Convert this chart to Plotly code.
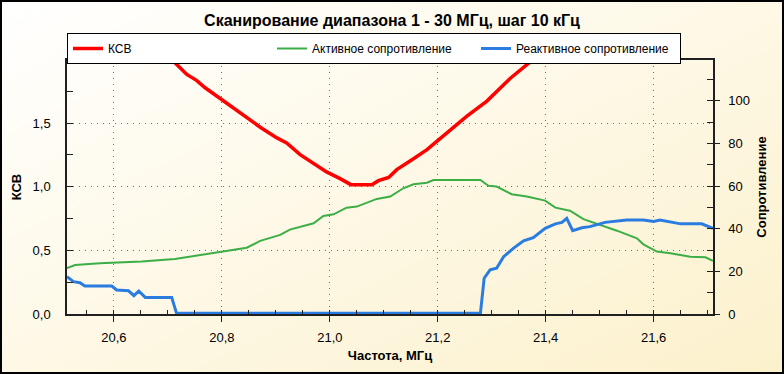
import base64
import plotly.graph_objects as go

# ---------------- data ----------------
ksv_freq = [20.701, 20.713, 20.735, 20.753, 20.769, 20.784, 20.803, 20.821, 20.846,
            20.871, 20.902, 20.920, 20.945, 20.970, 20.994, 21.019, 21.039, 21.078,
            21.090, 21.109, 21.124, 21.155, 21.180, 21.217, 21.254, 21.291, 21.334,
            21.377]
ksv_vals = [2.00, 1.974, 1.882, 1.835, 1.777, 1.732, 1.672, 1.620, 1.541,
            1.467, 1.383, 1.344, 1.252, 1.186, 1.116, 1.063, 1.016, 1.016,
            1.047, 1.073, 1.134, 1.220, 1.291, 1.423, 1.554, 1.672, 1.850,
            2.00]

act_freq = [20.513, 20.528, 20.574, 20.651, 20.713, 20.747, 20.797, 20.846, 20.871,
            20.908, 20.926, 20.945, 20.970, 20.988, 21.007, 21.031, 21.050, 21.087,
            21.112, 21.136, 21.155, 21.180, 21.192, 21.279, 21.294, 21.309, 21.337,
            21.365, 21.399, 21.418, 21.445, 21.470, 21.501, 21.532, 21.569, 21.581,
            21.606, 21.631, 21.668, 21.696, 21.710]
act_vals = [21.5, 23.0, 23.8, 24.6, 25.8, 27.2, 29.0, 31.1, 34.3,
            37.1, 39.6, 41.0, 42.6, 46.0, 46.8, 49.9, 50.4, 54.0,
            55.1, 59.0, 60.9, 61.6, 62.9, 62.9, 60.2, 59.8, 56.2,
            55.1, 53.2, 49.9, 48.5, 44.5, 41.8, 39.1, 35.5, 32.7,
            29.3, 28.5, 26.9, 26.6, 24.9]

react_freq = [20.513, 20.525, 20.537, 20.546, 20.596, 20.605, 20.627, 20.637, 20.646,
              20.658, 20.707, 20.716, 21.279, 21.286, 21.297, 21.309, 21.322, 21.340,
              21.359, 21.377, 21.399, 21.418, 21.430, 21.439, 21.450, 21.467, 21.482,
              21.510, 21.550, 21.581, 21.600, 21.612, 21.650, 21.689, 21.710]
react_vals = [17.5, 15.2, 14.7, 13.1, 13.1, 11.3, 10.9, 8.6, 10.8,
              7.8, 7.8, 0.3, 0.3, 16.8, 20.7, 21.5, 26.9, 30.8,
              34.3, 35.8, 40.2, 42.3, 43.0, 44.9, 39.1, 40.5, 41.0,
              43.0, 44.1, 44.1, 43.4, 44.1, 42.3, 42.3, 40.2]

x_ticks = [20.6, 20.8, 21.0, 21.2, 21.4, 21.6]
ksv_ticks = [0.0, 0.5, 1.0, 1.5]
r_ticks = [0, 20, 40, 60, 80, 100]

title_text = "Сканирование диапазона 1 - 30 МГц, шаг 10 кГц"
names = ["КСВ", "Активное сопротивление", "Реактивное сопротивление"]

# ---------------- layout geometry ----------------
W, H = 784, 374
ML, MR, MT, MB = 67, 71, 60, 60
PW, PH = W - ML - MR, H - MT - MB

FONT = "Liberation Sans, Arial, sans-serif"

svg = ('<svg xmlns="http://www.w3.org/2000/svg" width="784" height="374" '
       'preserveAspectRatio="none" viewBox="0 0 784 374">'
       '<defs><linearGradient id="g" x1="0" y1="0" x2="1" y2="1">'
       '<stop offset="0" stop-color="#ffffff"/>'
       '<stop offset="1" stop-color="#fcf1cc"/></linearGradient></defs>'
       '<rect width="784" height="374" fill="url(#g)"/></svg>')
bg_src = "data:image/svg+xml;base64," + base64.b64encode(svg.encode()).decode()

fig = go.Figure()
fig.add_trace(go.Scatter(x=ksv_freq, y=ksv_vals, name=names[0], mode="lines",
                         line=dict(color="#ff0000", width=3.5), yaxis="y"))
fig.add_trace(go.Scatter(x=act_freq, y=act_vals, name=names[1], mode="lines",
                         line=dict(color="#3cae46", width=2), yaxis="y2"))
fig.add_trace(go.Scatter(x=react_freq, y=react_vals, name=names[2], mode="lines",
                         line=dict(color="#2a7ce0", width=3), yaxis="y2"))

grid_dash = "1px,5px"
fig.update_layout(
    width=W, height=H,
    margin=dict(l=ML, r=MR, t=MT, b=MB, autoexpand=False),
    paper_bgcolor="white",
    plot_bgcolor="rgba(0,0,0,0)",
    separators=", ",
    font=dict(family=FONT, size=13, color="#000000"),
    title=dict(text="<b>" + title_text + "</b>", x=0.5, xanchor="center",
               y=1 - 20 / H, yanchor="middle", font=dict(size=16, family=FONT)),
    showlegend=True,
    legend=dict(orientation="h", x=0, xanchor="left",
                y=1 + (MT - 33) / PH, yanchor="top",
                bgcolor="white", bordercolor="black", borderwidth=1,
                entrywidth=159, entrywidthmode="pixels",
                font=dict(size=12, family=FONT), itemwidth=30,
                tracegroupgap=0, valign="middle"),
    xaxis=dict(range=[20.513, 21.71], tickvals=x_ticks, tickformat=".1f",
               showline=True, linecolor="#202020", linewidth=1.5, mirror=True,
               ticks="outside", ticklen=6, tickcolor="#202020",
               ticklabelstandoff=5,
               showgrid=True, gridcolor="#707070", griddash=grid_dash, gridwidth=1,
               minor=dict(dtick=0.05, ticks="inside", ticklen=4, tickcolor="#202020",
                          showgrid=False),
               zeroline=False,
               title=dict(text="<b>Частота, МГц</b>", standoff=7,
                          font=dict(size=13, family=FONT))),
    yaxis=dict(range=[0, 1.995], tickvals=ksv_ticks, tickformat=".1f",
               showline=True, linecolor="#202020", linewidth=1.5,
               ticks="inside", ticklen=6, tickcolor="#202020",
               ticklabelstandoff=12,
               showgrid=True, gridcolor="#707070", griddash=grid_dash, gridwidth=1,
               minor=dict(dtick=0.25, ticks="inside", ticklen=6, tickcolor="#202020",
                          showgrid=False),
               zeroline=False,
               title=dict(text="<b>КСВ</b>", standoff=8,
                          font=dict(size=13, family=FONT))),
    yaxis2=dict(range=[0, 119.2], tickvals=r_ticks, overlaying="y", side="right",
                showline=True, linecolor="#202020", linewidth=1.5,
                ticks="outside", ticklen=5, tickcolor="#202020",
                ticklabelstandoff=6,
                showgrid=False, zeroline=False,
                minor=dict(dtick=10, ticks="inside", ticklen=6, tickcolor="#202020",
                           showgrid=False),
                title=dict(text="<b>Сопротивление</b>", standoff=8,
                           font=dict(size=13, family=FONT))),
    images=[dict(source=bg_src, xref="paper", yref="paper",
                 x=-ML / PW, y=1 + MT / PH, sizex=W / PW, sizey=H / PH,
                 xanchor="left", yanchor="top", sizing="stretch", layer="below")],
    shapes=[dict(type="rect", xref="paper", yref="paper",
                 x0=(-ML + 1) / PW, x1=1 + (MR - 1) / PW,
                 y0=(-MB + 1) / PH, y1=1 + (MT - 1) / PH,
                 line=dict(color="black", width=2), fillcolor="rgba(0,0,0,0)",
                 layer="above")],
)

fig.write_html("out.html",
               config={"displayModeBar": False},
               post_script="document.body.style.margin='0px';"
                           "document.body.style.overflow='hidden';")
